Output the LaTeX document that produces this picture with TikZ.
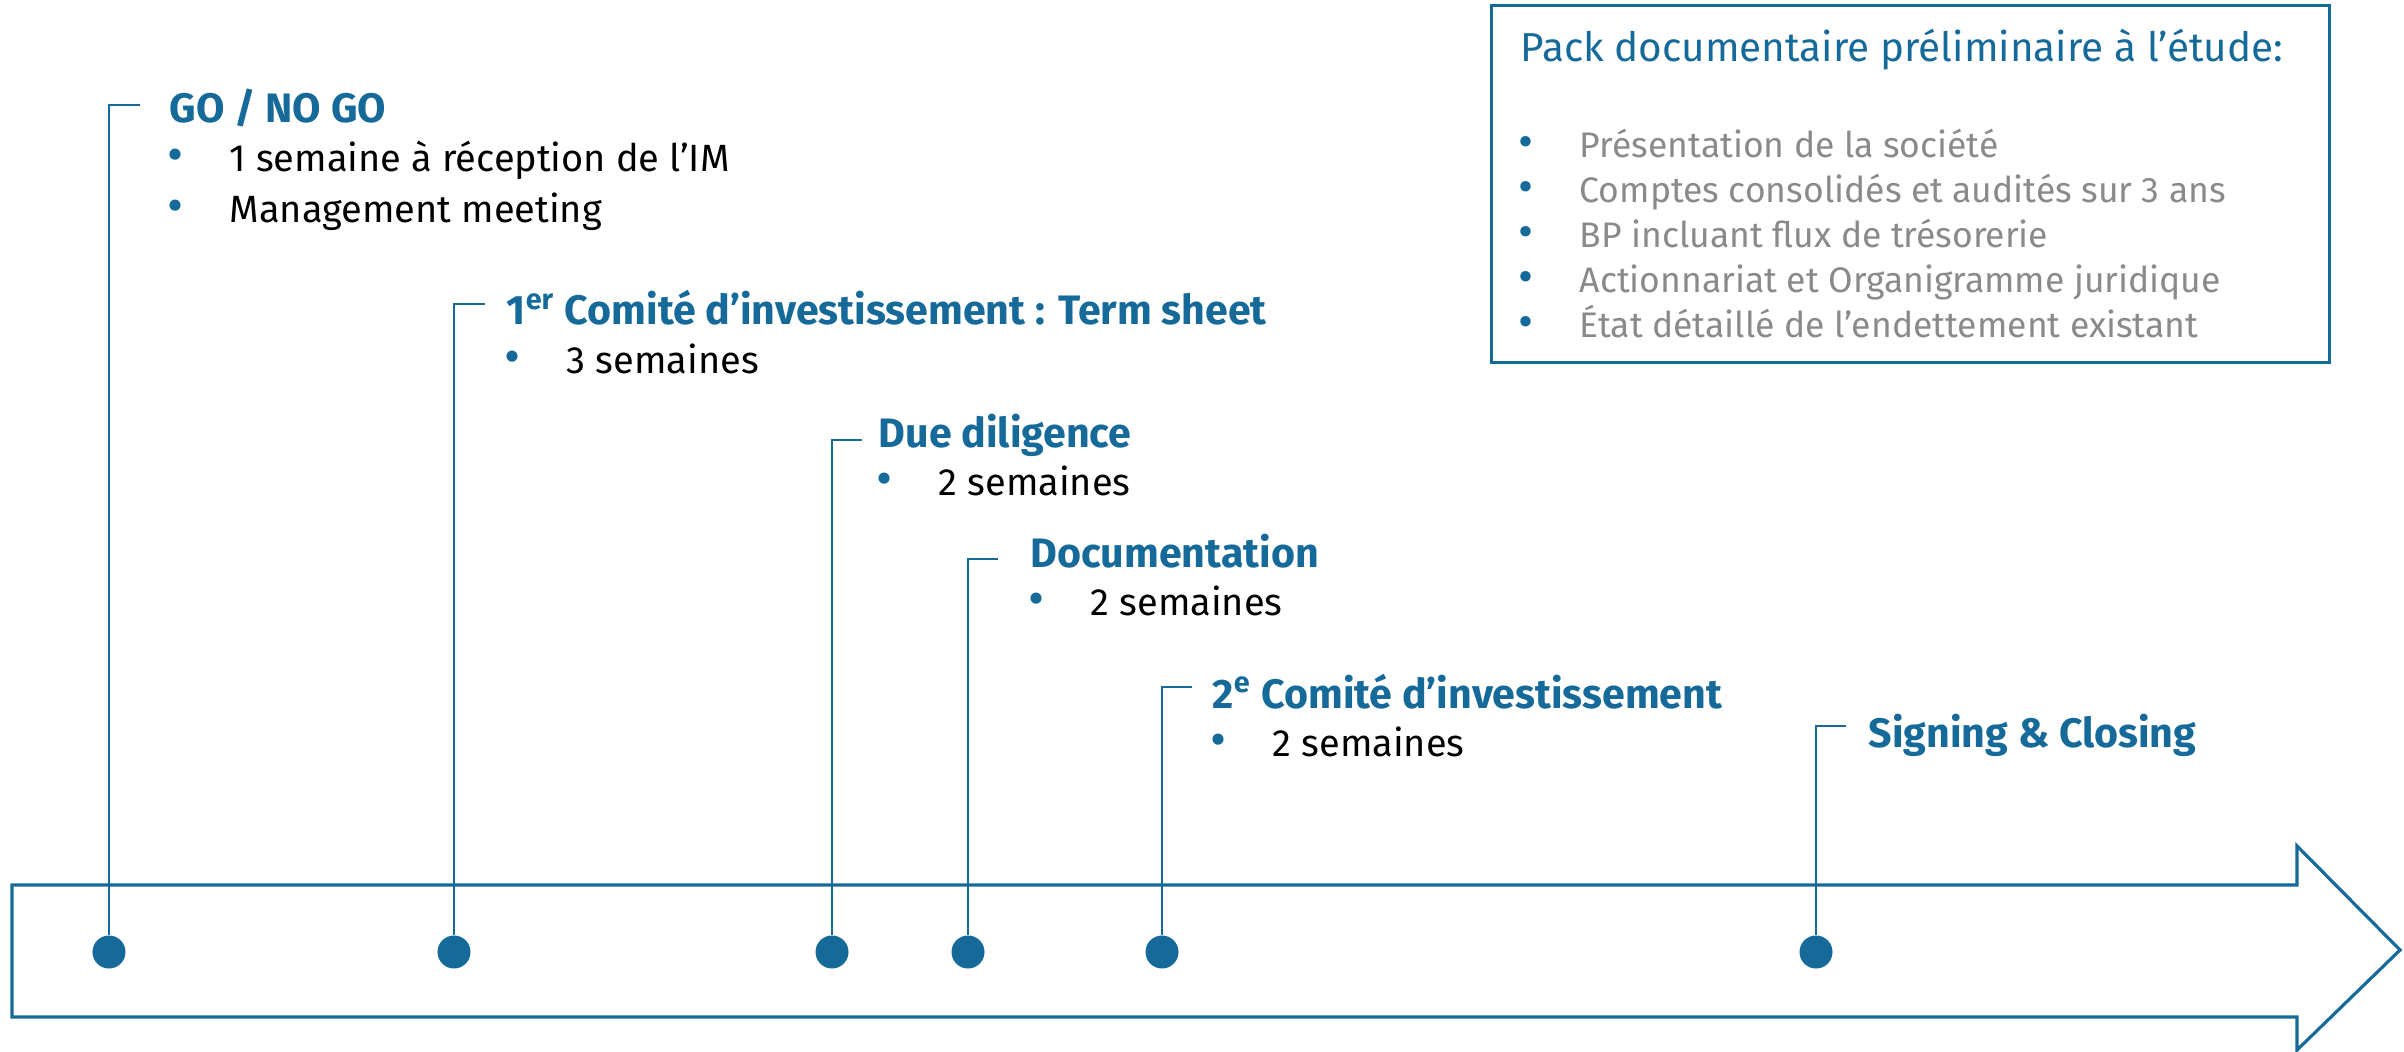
\documentclass[tikz,border=0pt]{standalone}
\usepackage{graphicx}
\usepackage{fontspec}
\setmainfont{Fira Sans}
\usetikzlibrary{positioning}

\definecolor{tlblue}{RGB}{22,106,154}
\definecolor{tlgray}{RGB}{138,138,138}

% puce bleue devant chaque ligne
\newcommand{\puce}[1]{\makebox[0.6cm][l]{\makebox[0.12cm]{\textcolor{tlblue}{\scalebox{1.3}{•}}}}#1}

\begin{document}
\begin{tikzpicture}[
    x=0.01cm,y=-0.01cm,
    jalon/.style={circle,fill=tlblue,inner sep=0pt,minimum size=0.33cm},
    tige/.style={draw=tlblue,line width=0.6pt},
    titre/.style={anchor=base west,inner sep=0pt,text=tlblue,
                  font=\fontsize{11.7}{13}\selectfont\bfseries},
    ligne/.style={anchor=base west,inner sep=0pt,
                  font=\fontsize{10.8}{13}\selectfont},
    cadre/.style={draw=tlblue,line width=0.8pt,minimum width=8.37cm,
                  minimum height=3.56cm,inner sep=0pt},
    packtitre/.style={anchor=base west,inner sep=0pt,text=tlblue,
                  font=\fontsize{11.5}{13}\selectfont},
    packligne/.style={anchor=base west,inner sep=0pt,text=tlgray,
                  font=\fontsize{10.1}{12}\selectfont}
  ]
  \useasboundingbox (0,0) rectangle (2404,1052);

  % la fleche du calendrier
  \draw[tlblue,line width=0.9pt] (12,885) -- (2297,885) -- (2297,846)
    -- (2400,950) -- (2297,1050) -- (2297,1017) -- (12,1017) -- cycle;

  % jalons
  \node[jalon] (d1) at (109,952) {};
  \node[jalon] (d2) at (454,952) {};
  \node[jalon] (d3) at (832,952) {};
  \node[jalon] (d4) at (968,952) {};
  \node[jalon] (d5) at (1162,952) {};
  \node[jalon] (d6) at (1816,952) {};

  \coordinate (k1) at (140,105);
  \coordinate (k2) at (485,304);
  \coordinate (k3) at (862,440);
  \coordinate (k4) at (998,559);
  \coordinate (k5) at (1192,687);
  \coordinate (k6) at (1846,726);

  \draw[tige] (d1) |- (k1);
  \draw[tige] (d2) |- (k2);
  \draw[tige] (d3) |- (k3);
  \draw[tige] (d4) |- (k4);
  \draw[tige] (d5) |- (k5);
  \draw[tige] (d6) |- (k6);

  % etapes
  \node[titre] (t1) at (169,123) {GO / NO GO};
  \node[ligne] (l1a) at ([yshift=-0.48cm]t1.base west)
        {\puce{1 semaine à réception de l’IM}};
  \node[ligne] (l1b) at ([yshift=-0.51cm]l1a.base west)
        {\puce{Management meeting}};

  \node[titre] (t2) at (506,325)
        {1\textsuperscript{er} Comité d’investissement : Term sheet};
  \node[ligne] (l2) at ([yshift=-0.48cm]t2.base west) {\puce{3 semaines}};

  \node[titre] (t3) at (878,447) {Due diligence};
  \node[ligne] (l3) at ([yshift=-0.48cm]t3.base west) {\puce{2 semaines}};

  \node[titre] (t4) at (1030,567) {Documentation};
  \node[ligne] (l4) at ([yshift=-0.48cm]t4.base west) {\puce{2 semaines}};

  \node[titre] (t5) at (1212,708) {2\textsuperscript{e} Comité d’investissement};
  \node[ligne] (l5) at ([yshift=-0.48cm]t5.base west) {\puce{2 semaines}};

  \node[titre] (t6) at (1868,747) {Signing \& Closing};

  % pack documentaire
  \node[cadre] (pack) at (1910.5,184) {};
  \node[packtitre] (pt) at (1520,62) {Pack documentaire préliminaire à l’étude:};
  \node[packligne] (p1) at (1519,158) {\puce{Présentation de la société}};
  \node[packligne] (p2) at ([yshift=-0.448cm]p1.base west)
        {\puce{Comptes consolidés et audités sur 3 ans}};
  \node[packligne] (p3) at ([yshift=-0.448cm]p2.base west)
        {\puce{BP incluant flux de trésorerie}};
  \node[packligne] (p4) at ([yshift=-0.448cm]p3.base west)
        {\puce{Actionnariat et Organigramme juridique}};
  \node[packligne] (p5) at ([yshift=-0.448cm]p4.base west)
        {\puce{État détaillé de l’endettement existant}};
\end{tikzpicture}
\end{document}
